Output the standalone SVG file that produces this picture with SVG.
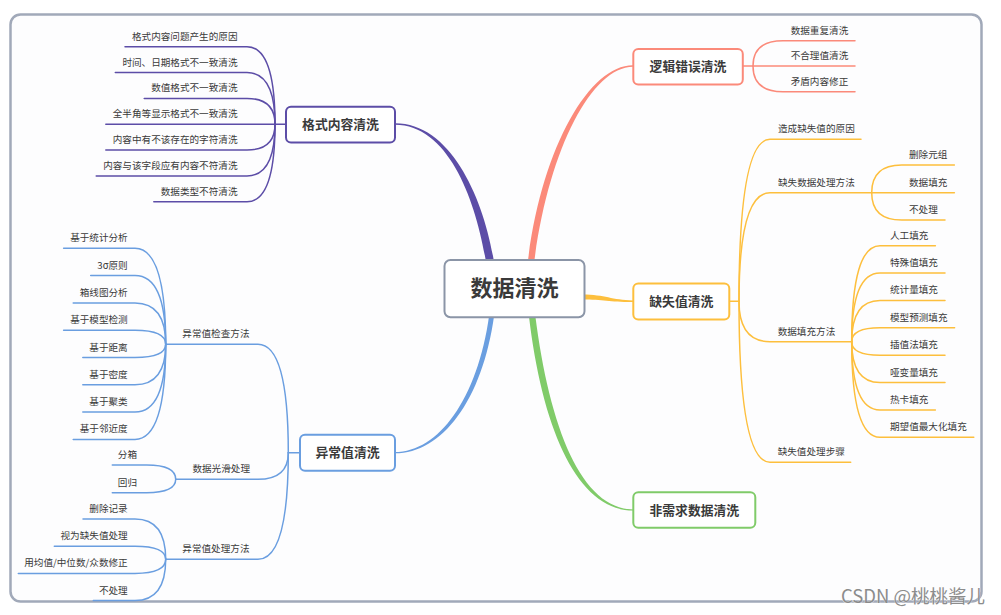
<svg xmlns="http://www.w3.org/2000/svg" width="1001" height="615" viewBox="0 0 1001 615">
<defs>
<style>
.frame{fill:#fdfdfe;stroke:#a1a9b9;stroke-width:2.5}
.t{font-family:"Noto Sans CJK SC","Noto Sans",sans-serif;font-size:9.6px;fill:#3a3a3a}
.e{text-anchor:end}
.nt{font-family:"Noto Sans CJK SC","Noto Sans",sans-serif;font-size:12.8px;font-weight:bold;fill:#3a3a3a;text-anchor:middle}
.box{fill:#fff;stroke-width:2}
.c{fill:none;stroke-width:1.5;stroke-linecap:round}
.pu{stroke:#5c4da7}.sa{stroke:#fb8a7a}.ye{stroke:#fdbf3d}.bl{stroke:#6a9ee0}.gr{stroke:#80cb69}
</style>
</defs>
<rect class="frame" x="10.5" y="14.5" width="971" height="587" rx="10"/>
<g id="connectors">
<path fill="#5c4da7" d="M395,123.3 C451,123.1 484,199 494,262 L486,262 C476,201 449,124.9 395,124.7 Z"/>
<path fill="#fb8a7a" d="M633,65.3 C589,65.1 541.5,149 527.8,262 L534.2,262 C548.5,151 591,66.9 633,66.7 Z"/>
<path fill="#fdbf3d" d="M582,294.6 C606,294.6 611,300.3 633.5,300.4 L633.5,302 C609,302.1 604,299.4 582,299.4 Z"/>
<path fill="#6a9ee0" d="M489.2,315 C477.6,399 438.5,452 395,452.1 L395,453.3 C441.5,453.4 482.4,401 494.2,315 Z"/>
<path fill="#80cb69" d="M528.8,315 C542.5,432 578.5,510.8 633.5,510.6 L633.5,509.4 C581.5,509.2 549.5,428 535.2,315 Z"/>
<g class="c pu">
<path d="M275,124.2 Q275,46.7 247,46.7 H125"/>
<path d="M275,124.2 Q275,72.5 247,72.5 H115.3"/>
<path d="M275,124.2 Q275,98.4 247,98.4 H144.2"/>
<path d="M286,124.2 H105.8"/>
<path d="M275,124.2 Q275,150 247,150 H105.8"/>
<path d="M275,124.2 Q275,175.9 247,175.9 H96.2"/>
<path d="M275,124.2 Q275,201.7 247,201.7 H153.8"/>
</g>
<g class="c sa">
<path d="M753,66 Q753,40.7 783,40.7 H855"/>
<path d="M743,66 H855"/>
<path d="M753,66 Q753,91.7 783,91.7 H855"/>
</g>
<g class="c ye">
<path d="M729.3,301.3 H739"/>
<path d="M739,301.3 Q739,139.3 770,139.3 H861"/>
<path d="M739,301.3 Q739,192.7 770,192.7 H871.7"/>
<path d="M739,301.3 Q739,341.7 770,341.7 H851.7"/>
<path d="M739,301.3 Q739,462.3 770,462.3 H850.7"/>
<path d="M871.7,192.7 Q871.7,165 901.7,165 H954.4"/>
<path d="M871.7,192.7 H954.4"/>
<path d="M871.7,192.7 Q871.7,220 901.7,220 H945"/>
<path d="M851.7,341.7 Q851.7,245.7 880,245.7 H935.4"/>
<path d="M851.7,341.7 Q851.7,273.1 880,273.1 H945"/>
<path d="M851.7,341.7 Q851.7,300.4 880,300.4 H945"/>
<path d="M851.7,341.7 Q851.7,327.8 880,327.8 H954.6"/>
<path d="M851.7,341.7 Q851.7,355.2 880,355.2 H945"/>
<path d="M851.7,341.7 Q851.7,382.5 880,382.5 H945"/>
<path d="M851.7,341.7 Q851.7,409.9 880,409.9 H935.4"/>
<path d="M851.7,341.7 Q851.7,437.3 880,437.3 H973.8"/>
</g>
<g class="c bl">
<path d="M300,452.7 H288.3"/>
<path d="M288.3,452.7 Q288.3,344.3 258,344.3 H165.7"/>
<path d="M288.3,452.7 Q288.3,479.3 258,479.3 H175.7"/>
<path d="M288.3,452.7 Q288.3,559.3 258,559.3 H165.7"/>
<path d="M165.7,344.3 Q165.7,248.3 135,248.3 H63.6"/>
<path d="M165.7,344.3 Q165.7,275.6 135,275.6 H90.7"/>
<path d="M165.7,344.3 Q165.7,302.9 135,302.9 H73.2"/>
<path d="M165.7,344.3 Q165.7,330.2 135,330.2 H63.6"/>
<path d="M165.7,344.3 Q165.7,357.5 135,357.5 H82.8"/>
<path d="M165.7,344.3 Q165.7,384.8 135,384.8 H82.8"/>
<path d="M165.7,344.3 Q165.7,412.1 135,412.1 H82.8"/>
<path d="M165.7,344.3 Q165.7,439.4 135,439.4 H73.2"/>
<path d="M175.7,479.3 Q175.7,465 146.7,465 H112.3"/>
<path d="M175.7,479.3 Q175.7,492.7 146.7,492.7 H112.3"/>
<path d="M165.7,559.3 Q165.7,519 135,519 H83"/>
<path d="M165.7,559.3 Q165.7,546.2 135,546.2 H54.3"/>
<path d="M165.7,559.3 Q165.7,573.4 135,573.4 H18.3"/>
<path d="M165.7,559.3 Q165.7,600.6 135,600.6 H93.3"/>
</g>
</g>
<g id="node-root">
<rect class="box" x="444.5" y="260" width="140" height="57.3" rx="6" stroke="#8b95a7" stroke-width="2.5"/>
<text class="nt" x="514.4" y="296" style="font-size:22px">数据清洗</text>
</g>
<g id="node-format">
<rect class="box" x="286" y="106.8" width="109" height="35.8" rx="5" stroke="#5c4da7"/>
<text class="nt" x="340.5" y="129.4">格式内容清洗</text>
</g>
<g id="node-logic">
<rect class="box" x="633.3" y="49" width="109.5" height="35.5" rx="5" stroke="#fb8a7a"/>
<text class="nt" x="688" y="71.2">逻辑错误清洗</text>
</g>
<g id="node-missing">
<rect class="box" x="633.3" y="283.5" width="96" height="36" rx="5" stroke="#fdbf3d"/>
<text class="nt" x="681.3" y="306">缺失值清洗</text>
</g>
<g id="node-unneeded">
<rect class="box" x="633.3" y="492.3" width="122" height="35.5" rx="5" stroke="#80cb69"/>
<text class="nt" x="694.3" y="514.6">非需求数据清洗</text>
</g>
<g id="node-outlier">
<rect class="box" x="300" y="434.7" width="95" height="36" rx="5" stroke="#6a9ee0"/>
<text class="nt" x="347.5" y="457.4">异常值清洗</text>
</g>
<g id="format-children" class="t e">
<g id="f1"><text x="237.5" y="39.7">格式内容问题产生的原因</text></g>
<g id="f2"><text x="237.5" y="65.5">时间、日期格式不一致清洗</text></g>
<g id="f3"><text x="237.5" y="91.4">数值格式不一致清洗</text></g>
<g id="f4"><text x="237.5" y="117.2">全半角等显示格式不一致清洗</text></g>
<g id="f5"><text x="237.5" y="143">内容中有不该存在的字符清洗</text></g>
<g id="f6"><text x="237.5" y="168.9">内容与该字段应有内容不符清洗</text></g>
<g id="f7"><text x="237.5" y="194.7">数据类型不符清洗</text></g>
</g>
<g id="logic-children" class="t">
<g id="l1"><text x="790.7" y="33.7">数据重复清洗</text></g>
<g id="l2"><text x="790.7" y="59">不合理值清洗</text></g>
<g id="l3"><text x="790.7" y="84.7">矛盾内容修正</text></g>
</g>
<g id="missing-children" class="t">
<g id="m1"><text x="778" y="132.3">造成缺失值的原因</text></g>
<g id="m2"><text x="778" y="185.7">缺失数据处理方法</text></g>
<g id="m2a"><text x="909" y="158">删除元组</text></g>
<g id="m2b"><text x="909" y="185.7">数据填充</text></g>
<g id="m2c"><text x="909" y="213">不处理</text></g>
<g id="m3"><text x="777.7" y="334.7">数据填充方法</text></g>
<g id="m3a"><text x="890" y="238.7">人工填充</text></g>
<g id="m3b"><text x="890" y="266.1">特殊值填充</text></g>
<g id="m3c"><text x="890" y="293.4">统计量填充</text></g>
<g id="m3d"><text x="890" y="320.8">模型预测填充</text></g>
<g id="m3e"><text x="890" y="348.2">插值法填充</text></g>
<g id="m3f"><text x="890" y="375.5">哑变量填充</text></g>
<g id="m3g"><text x="890" y="402.9">热卡填充</text></g>
<g id="m3h"><text x="890" y="430.3">期望值最大化填充</text></g>
<g id="m4"><text x="777.7" y="455.3">缺失值处理步骤</text></g>
</g>
<g id="outlier-children" class="t e">
<g id="o1"><text x="249.5" y="337.3">异常值检查方法</text></g>
<g id="o1a"><text x="127.7" y="241.3">基于统计分析</text></g>
<g id="o1b"><text x="127.7" y="268.6">3σ原则</text></g>
<g id="o1c"><text x="127.7" y="295.9">箱线图分析</text></g>
<g id="o1d"><text x="127.7" y="323.2">基于模型检测</text></g>
<g id="o1e"><text x="127.7" y="350.5">基于距离</text></g>
<g id="o1f"><text x="127.7" y="377.8">基于密度</text></g>
<g id="o1g"><text x="127.7" y="405.1">基于聚类</text></g>
<g id="o1h"><text x="127.7" y="432.4">基于邻近度</text></g>
<g id="o2"><text x="250" y="472.3">数据光滑处理</text></g>
<g id="o2a"><text x="137" y="458">分箱</text></g>
<g id="o2b"><text x="137" y="485.7">回归</text></g>
<g id="o3"><text x="249.5" y="552.3">异常值处理方法</text></g>
<g id="o3a"><text x="127.7" y="512">删除记录</text></g>
<g id="o3b"><text x="127.7" y="539.2">视为缺失值处理</text></g>
<g id="o3c"><text x="127.7" y="566.4">用均值/中位数/众数修正</text></g>
<g id="o3d"><text x="127.7" y="593.6">不处理</text></g>
</g>
<text x="985" y="603" text-anchor="end" style="font-family:'Noto Sans CJK SC','Noto Sans',sans-serif;font-size:18.5px;fill:#8c8c8c;stroke:#ffffff;stroke-width:0.5;paint-order:stroke">CSDN @桃桃酱儿</text>
</svg>
